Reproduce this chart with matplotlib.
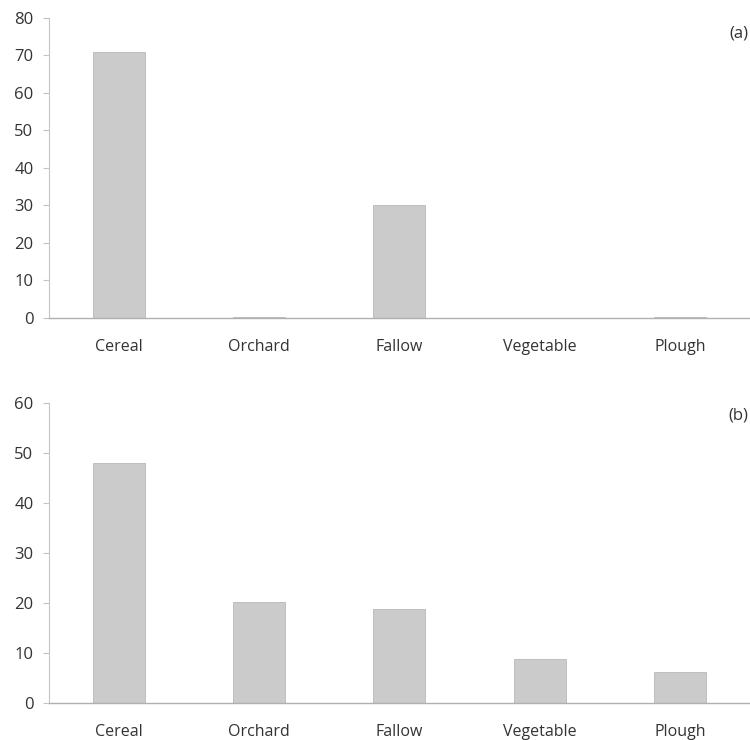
import matplotlib
matplotlib.use("Agg")
import matplotlib.pyplot as plt
import numpy as np

categories = ["Cereal", "Orchard", "Fallow", "Vegetable", "Plough"]
values_a = [71, 0.2, 30, 0, 0.3]
values_b = [48, 20.3, 18.8, 8.8, 6.3]
yticks_a = [0, 10, 20, 30, 40, 50, 60, 70, 80]
yticks_b = [0, 10, 20, 30, 40, 50, 60]

plt.rcParams['font.family'] = ['Open Sans', 'DejaVu Sans']

fig = plt.figure(figsize=(7.5, 7.4), dpi=100)
ax_a = fig.add_axes([0.065, 0.5703, 0.935, 0.4054])
ax_b = fig.add_axes([0.065, 0.05, 0.935, 0.4054])

bar_color = "#cbcbcb"
edge_color = "#b8b8b8"
text_color = "#333333"
spine_color = "#c4c4c4"

for ax, vals, yt in [(ax_a, values_a, yticks_a), (ax_b, values_b, yticks_b)]:
    x = np.arange(len(categories))
    ax.bar(x, vals, width=0.37, color=bar_color, edgecolor=edge_color, linewidth=0.6)
    ax.set_xlim(-0.5, len(categories) - 0.5)
    ax.set_ylim(yt[0], yt[-1])
    ax.set_yticks(yt)
    ax.set_xticks(x)
    ax.set_xticklabels(categories)
    for s in ["top", "right"]:
        ax.spines[s].set_visible(False)
    ax.spines["left"].set_color(spine_color)
    ax.spines["bottom"].set_color("#b0b0b0")
    ax.spines["left"].set_linewidth(0.8)
    ax.spines["bottom"].set_linewidth(1.0)
    ax.tick_params(axis="y", colors=spine_color, labelcolor=text_color, labelsize=12, length=4, pad=7)
    ax.tick_params(axis="x", length=0, labelcolor=text_color, labelsize=11.5, pad=15)
    ax.set_facecolor("white")

fig.text(0.998, 1 - 33 / 740, "(a)", ha="right", va="center", fontsize=12, color=text_color)
fig.text(0.998, 1 - 415 / 740, "(b)", ha="right", va="center", fontsize=12, color=text_color)

fig.savefig("out.png", dpi=100, facecolor="white")
